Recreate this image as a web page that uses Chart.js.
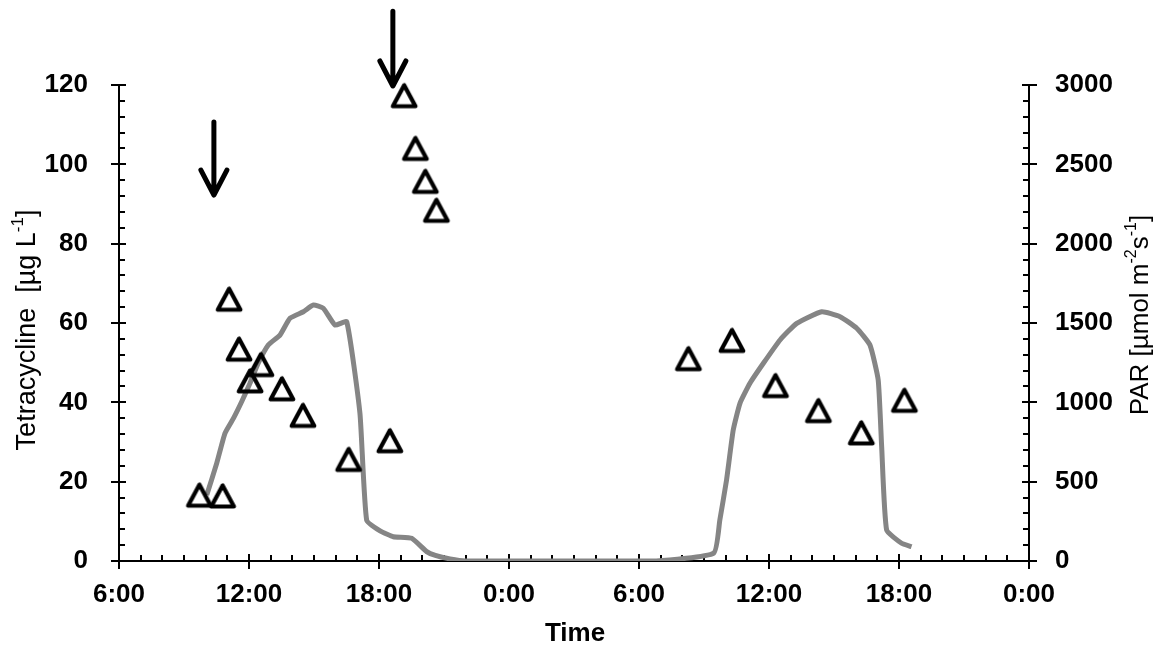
<!DOCTYPE html>
<html>
<head>
<meta charset="utf-8">
<script src="https://cdn.jsdelivr.net/npm/chart.js@4.4.0/dist/chart.umd.min.js"></script>
<style>
  body { margin: 0; background: #fff; }
  #wrap { width: 1163px; height: 651px; }
</style>
</head>
<body>
<div id="wrap"><canvas id="parChart" width="1163" height="651"></canvas></div>
<script>
// hours counted from 6:00 on day 1
const xTickLabels = ['6:00', '12:00', '18:00', '0:00', '6:00', '12:00', '18:00', '0:00'];

// tetracycline samples [µg/L]
const sampleHours = [3.71, 4.78, 5.08, 5.54, 6.05, 6.55, 7.52, 8.49, 10.6, 12.5,
    13.16, 13.68, 14.14, 14.65, 26.28, 28.29, 30.3, 32.28, 34.26, 36.25];
const tetracycline = [16.6, 16.4, 66.0, 53.4, 45.4, 49.5, 43.4, 36.7, 25.6, 30.3,
    117.3, 104.0, 95.7, 88.4, 51.0, 55.6, 44.2, 37.9, 32.3, 40.5];

// PAR record [µmol m-2 s-1]
const parHours = [4.05, 4.51, 4.89, 5.28, 5.66, 6.05, 6.43, 6.89, 7.43, 7.89, 8.51, 8.97,
    9.43, 9.97, 10.51, 11.12, 11.43, 12.05, 12.66, 13.51, 14.2, 14.6, 15.28, 16.0, 20.0, 24.8,
    27.45, 27.73, 28.04, 28.35, 28.66, 29.12, 29.74, 30.51, 31.28, 32.43, 33.28, 34.05,
    34.66, 35.04, 35.2, 35.43, 36.12, 36.58];
const parValues = [416, 616, 805, 899, 1004, 1122, 1248, 1361, 1424, 1530, 1571, 1613,
    1593, 1487, 1508, 931, 258, 190, 153, 143, 59, 35, 13, 0, 0, 0,
    50, 258, 510, 826, 994, 1120, 1246, 1393, 1498, 1571, 1540, 1467,
    1361, 1141, 720, 195, 112, 90];

// dosing arrows: time, top and tip in tetracycline units
const arrowHours = [4.38, 12.64];
const arrowTop = [110.7, 138.6];
const arrowTip = [92.0, 119.5];

const FONT = '"Liberation Sans", Arial, sans-serif';

// open triangle marker, centred in its box like the spreadsheet marker
const makeTriangle = () => {
    const c = document.createElement('canvas');
    c.width = 32; c.height = 32;
    const g = c.getContext('2d');
    g.strokeStyle = '#000';
    g.lineWidth = 4.2;
    g.lineJoin = 'round';
    g.beginPath();
    g.moveTo(16, 5.5);
    g.lineTo(4.7, 26.5);
    g.lineTo(27.3, 26.5);
    g.closePath();
    g.stroke();
    return c;
};

const drawRich = (ctx, parts, cx, cy, size, weight, rotate) => {
    ctx.save();
    ctx.translate(cx, cy);
    if (rotate) ctx.rotate(-Math.PI / 2);
    const base = `${weight} ${size}px ${FONT}`;
    const sup = `${weight} ${Math.round(size * 0.62)}px ${FONT}`;
    let total = 0;
    parts.forEach(p => { ctx.font = p[1] ? sup : base; total += ctx.measureText(p[0]).width; });
    let xx = -total / 2;
    ctx.textBaseline = 'middle';
    ctx.textAlign = 'left';
    ctx.fillStyle = '#000';
    parts.forEach(p => {
        ctx.font = p[1] ? sup : base;
        ctx.fillText(p[0], xx, p[1] ? -size * 0.36 : 0);
        xx += ctx.measureText(p[0]).width;
    });
    ctx.restore();
};

const axesPlugin = {
    id: 'axesPlugin',
    beforeDatasetsDraw(chart) {
        const { ctx, chartArea: a, scales: { x, y, y2 } } = chart;
        ctx.save();
        ctx.strokeStyle = '#000';
        ctx.lineWidth = 2;
        ctx.beginPath();
        // axis lines
        ctx.moveTo(a.left, a.bottom); ctx.lineTo(a.right, a.bottom);
        ctx.moveTo(a.left, a.top); ctx.lineTo(a.left, a.bottom);
        ctx.moveTo(a.right, a.top); ctx.lineTo(a.right, a.bottom);
        // time ticks, one per hour
        for (let h = 0; h <= 42; h++) {
            const px = Math.round(x.getPixelForValue(h));
            if (h % 6 === 0) { ctx.moveTo(px, a.bottom - 7); ctx.lineTo(px, a.bottom + 8); }
            else { ctx.moveTo(px, a.bottom - 6); ctx.lineTo(px, a.bottom); }
        }
        for (let v = 0; v <= 120; v += 4) {
            const py = Math.round(y.getPixelForValue(v));
            if (v % 20 === 0) { ctx.moveTo(a.left - 8, py); ctx.lineTo(a.left + 7, py); }
            else { ctx.moveTo(a.left, py); ctx.lineTo(a.left + 6, py); }
        }
        for (let v = 0; v <= 3000; v += 100) {
            const py = Math.round(y2.getPixelForValue(v));
            if (v % 500 === 0) { ctx.moveTo(a.right - 7, py); ctx.lineTo(a.right + 8, py); }
            else { ctx.moveTo(a.right - 6, py); ctx.lineTo(a.right, py); }
        }
        ctx.stroke();
        ctx.restore();
    },
    afterDatasetsDraw(chart) {
        const { ctx, scales: { x, y } } = chart;
        ctx.save();
        ctx.strokeStyle = '#000';
        ctx.lineWidth = 5;
        ctx.lineCap = 'round';
        ctx.lineJoin = 'round';
        arrowHours.forEach((h, i) => {
            const px = x.getPixelForValue(h);
            const top = y.getPixelForValue(arrowTop[i]);
            const tip = y.getPixelForValue(arrowTip[i]);
            ctx.beginPath();
            ctx.moveTo(px, top); ctx.lineTo(px, tip - 2);
            ctx.moveTo(px - 13, tip - 26); ctx.lineTo(px, tip - 1); ctx.lineTo(px + 13, tip - 26);
            ctx.stroke();
        });
        ctx.restore();
    },
    afterDraw(chart) {
        const { ctx } = chart;
        drawRich(ctx, [['Tetracycline  [µg L', false], ['-1', true], [']', false]], 28, 330, 27, 'normal', true);
        drawRich(ctx, [['PAR [µmol m', false], ['-2', true], ['s', false], ['-1', true], [']', false]], 1141, 315, 26, 'normal', true);
        drawRich(ctx, [['Time', false]], 575, 634, 26, 'bold', false);
    }
};

const tickFont = { family: FONT, size: 26, weight: 'bold' };

new Chart(document.getElementById('parChart'), {
    type: 'scatter',
    data: {
        datasets: [
            {
                label: 'Tetracycline',
                data: sampleHours.map((h, i) => ({ x: h, y: tetracycline[i] })),
                yAxisID: 'y',
                pointStyle: makeTriangle(),
                pointRadius: 12,
                clip: false,
                order: 0,
            },
            {
                type: 'line',
                label: 'PAR',
                data: parHours.map((h, i) => ({ x: h, y: parValues[i] })),
                yAxisID: 'y2',
                borderColor: '#858585',
                borderWidth: 5,
                pointRadius: 0,
                tension: 0.15,
                fill: false,
                order: 1,
            },
        ],
    },
    options: {
        responsive: false,
        animation: false,
        layout: { padding: { top: 85, left: 0, right: 0, bottom: 0 } },
        plugins: { legend: { display: false }, tooltip: { enabled: false } },
        scales: {
            x: {
                type: 'linear',
                min: 0,
                max: 42,
                afterFit: s => { s.height = 90; },
                grid: { display: false, drawTicks: false },
                border: { display: false },
                ticks: {
                    stepSize: 6,
                    autoSkip: false,
                    maxRotation: 0,
                    padding: 18,
                    color: '#000',
                    font: tickFont,
                    callback: (v) => xTickLabels[Math.round(v / 6)],
                },
            },
            y: {
                position: 'left',
                min: 0,
                max: 120,
                afterFit: s => { s.width = 119; },
                grid: { display: false, drawTicks: false },
                border: { display: false },
                ticks: { stepSize: 20, padding: 31, color: '#000', font: tickFont, callback: v => String(v) },
            },
            y2: {
                position: 'right',
                min: 0,
                max: 3000,
                afterFit: s => { s.width = 134; },
                grid: { display: false, drawTicks: false },
                border: { display: false },
                ticks: { stepSize: 500, padding: 26, color: '#000', font: tickFont, callback: v => String(v) },
            },
        },
    },
    plugins: [axesPlugin],
});
</script>
</body>
</html>
